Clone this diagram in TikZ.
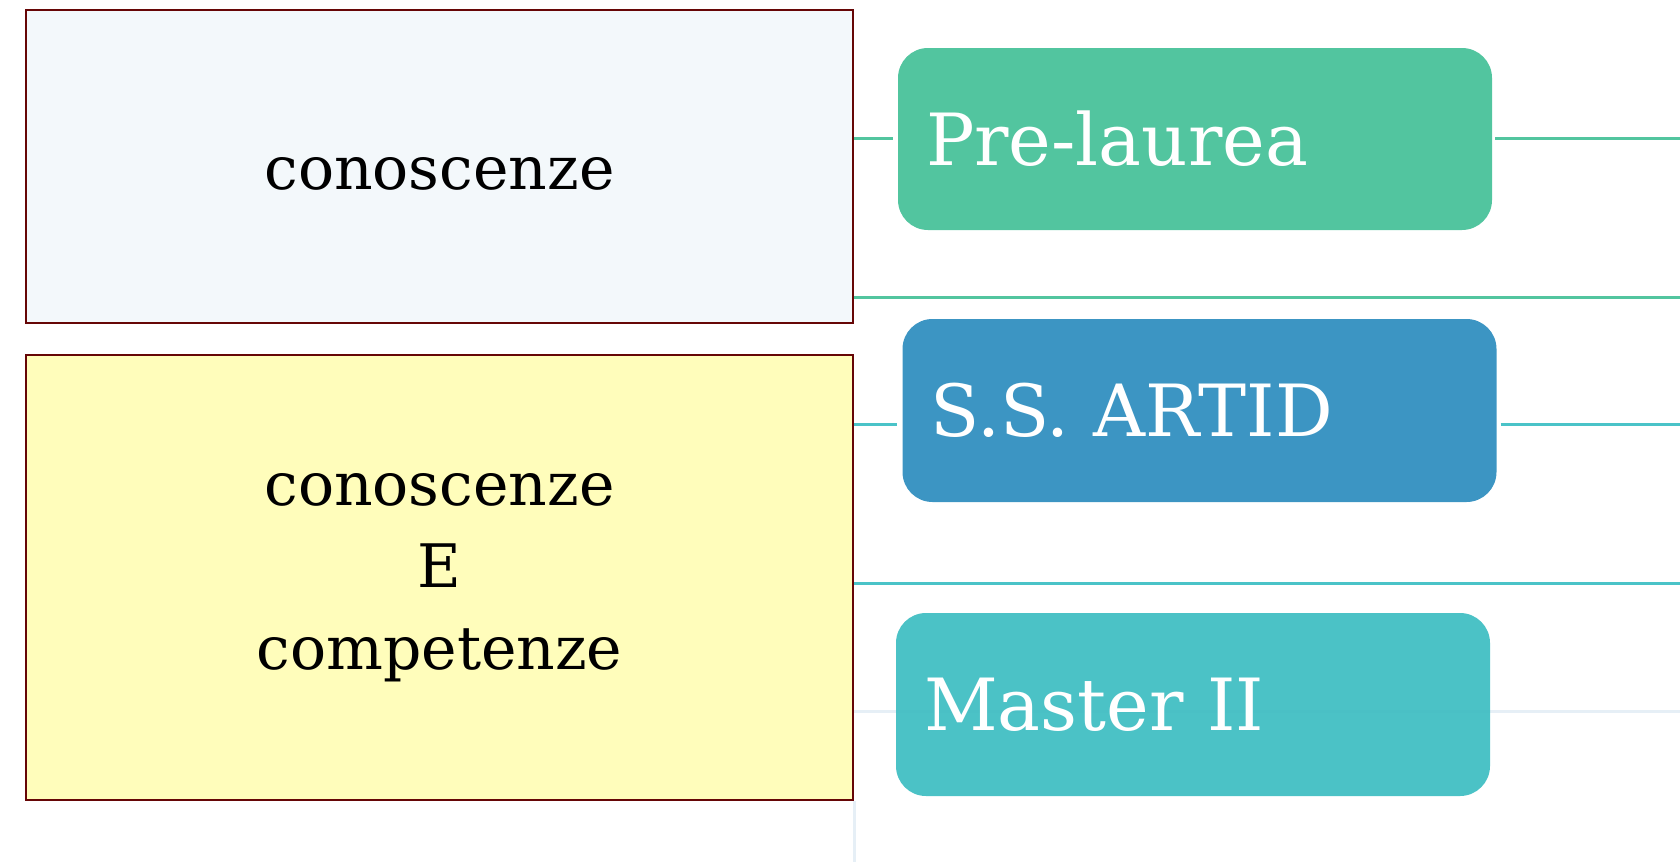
\documentclass[tikz,border=0pt]{standalone}
\usepackage{fontspec}
\setmainfont{DejaVu Serif}
\usepackage{tikz}
\usetikzlibrary{positioning,calc}

\definecolor{boxborder}{HTML}{660606}
\definecolor{paleblue}{HTML}{F3F8FB}
\definecolor{paleyellow}{HTML}{FFFDBB}
\definecolor{mintgreen}{HTML}{52C59F}
\definecolor{steelblue}{HTML}{3C95C3}
\definecolor{aqua}{HTML}{44BFC4}
\definecolor{aqualine}{HTML}{4AC3C8}
\definecolor{faintline}{HTML}{E6EFF6}

\begin{document}
\begin{tikzpicture}[x=1pt,y=-1pt,
  leftbox/.style={rectangle,draw=boxborder,line width=2.5pt,minimum width=827pt,inner sep=0pt,
    align=center,font=\fontsize{60}{82}\selectfont},
  stage/.style={rectangle,rounded corners=30pt,minimum width=594pt,minimum height=182pt,
    text width=538pt,inner xsep=28pt,align=left,text=white,font=\fontsize{72}{86}\selectfont},
  branch/.style={line width=3pt}]
\useasboundingbox (0,0) rectangle (1680,862);

% right ends of the branches
\coordinate (e1) at (1680,138);
\coordinate (e2) at (1680,297);
\coordinate (e3) at (1680,424);
\coordinate (e4) at (1680,583);
\coordinate (e5) at (1680,711);

\node [leftbox,fill=paleblue,minimum height=313pt,text height=46pt] (know) at (439.5,166.5) {conoscenze};
\node [leftbox,fill=paleyellow,minimum height=445pt] (skill) at (439.5,577.5) {conoscenze\\E\\competenze};
\coordinate (e6) at (skill.east |- 0,862);

% faint branch behind the last stage
\draw [branch,faintline] (skill.east |- e5) -- (e5);
\draw [branch,faintline] (skill.east |- skill.south) -- (e6);

\node [stage,fill=mintgreen] (pre) at (1195,139) {Pre-laurea};
\node [stage,fill=steelblue,minimum height=183pt] (artid) at (1199.5,410.5) {S.S. ARTID};
\node [stage,fill=aqua,fill opacity=0.96,text opacity=1,minimum height=183pt] (master) at (1193,704.5) {Master II};

\draw [branch,mintgreen,shorten >=5pt] (know.east |- e1) -- (pre.west |- e1);
\draw [branch,mintgreen,shorten <=3pt] (pre.east |- e1) -- (e1);
\draw [branch,mintgreen] (know.east |- e2) -- (e2);
\draw [branch,aqualine,shorten >=5pt] (skill.east |- e3) -- (artid.west |- e3);
\draw [branch,aqualine,shorten <=4pt] (artid.east |- e3) -- (e3);
\draw [branch,aqualine] (skill.east |- e4) -- (e4);
\end{tikzpicture}
\end{document}
